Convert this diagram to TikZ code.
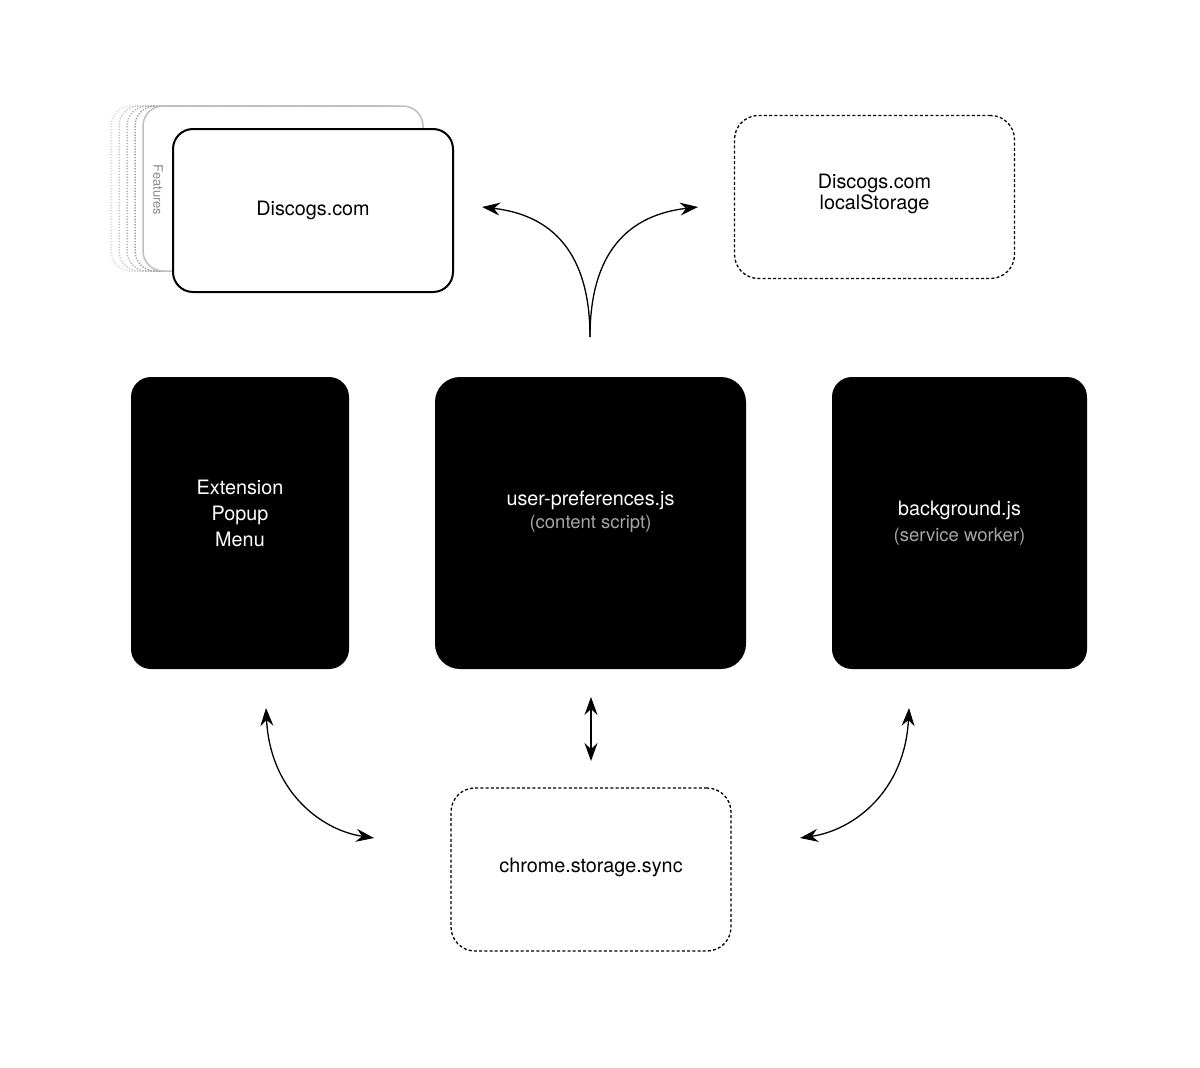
\documentclass[tikz,border=0pt]{standalone}
\usepackage{fontspec}
\setmainfont{TeX Gyre Heros}
\usetikzlibrary{arrows.meta}
\begin{document}
\begin{tikzpicture}[x=1pt, y=-1pt,
	every node/.style = {shape=rectangle, rounded corners=20pt,
		align=center, inner sep=0pt, font=\fontsize{19.8}{26}\selectfont},
	card/.style = {draw, fill=white, line width=2pt,
		minimum width=280pt, minimum height=163pt},
	ghost/.style = {draw=black!#1, line width=1.5pt, dash pattern=on 1.2pt off 1.6pt,
		minimum width=280pt, minimum height=165pt},
	dotbox/.style = {draw, line width=1.3pt, dash pattern=on 3pt off 2.2pt,
		rounded corners=24pt, minimum width=280pt, minimum height=163pt},
	darkbox/.style = {fill=black, text=white, minimum height=292pt},
	link/.style = {line width=1.3pt, -{Stealth[length=18pt, width=13pt, inset=6pt]}},
	twoway/.style = {line width=1.3pt, {Stealth[length=18pt, width=13pt, inset=6pt]}-{Stealth[length=18pt, width=13pt, inset=6pt]}}]
	\useasboundingbox (0,0) rectangle (1200,1068);

	\foreach \dx/\shade in {-32/15, -24/22, -16/30, -8/40}
		\node[ghost=\shade] (ghost\dx) at (283+\dx,188.5) {};
	\node[card, draw=black!25, line width=1.5pt, minimum height=165pt] (features) at (283,188.5) {};
	\node[rotate=-90, text=black!45, font=\fontsize{13}{15}\selectfont] (featlabel) at (158,190) {Features};
	\node[card] (discogs) at (313,210.5) {Discogs.com};
	\node[dotbox] (storage) at (874.5,197) {Discogs.com\\[-5pt]localStorage\\[-16pt]};

	\node[darkbox, minimum width=218pt] (popup) at (240,523) {Extension\\Popup\\Menu\\[-6pt]};
	\node[darkbox, minimum width=311pt, rounded corners=25pt] (content) at (590.5,523)
		{user-preferences.js\\[-3pt]{\color{black!35}\fontsize{18.5}{20}\selectfont(content script)}\\[0pt]};
	\node[darkbox, minimum width=255pt] (worker) at (959.5,523)
		{background.js\\[0pt]{\color{black!35}\fontsize{18.5}{20}\selectfont(service worker)}\\[-22pt]};

	\node[dotbox] (sync) at (591,869.5) {chrome.storage.sync\\[-18pt]};

	\coordinate (fork) at (590,337);
	\coordinate (toleft) at (482,207);
	\coordinate (toright) at (698,207);
	\draw[link] (fork) .. controls (590,262) and (560,216) .. (toleft);
	\draw[link] (fork) .. controls (590,262) and (620,216) .. (toright);

	\coordinate (popupend) at (266,708);
	\coordinate (syncleft) at (374,838);
	\coordinate (contentend) at (591,697);
	\coordinate (synctop) at (591,761);
	\coordinate (workerend) at (909,708);
	\coordinate (syncright) at (800,838);
	\draw[twoway] (popupend) .. controls (270,790) and (320,830) .. (syncleft);
	\draw[twoway] (contentend) -- (synctop);
	\draw[twoway] (workerend) .. controls (905,790) and (855,830) .. (syncright);
\end{tikzpicture}
\end{document}
